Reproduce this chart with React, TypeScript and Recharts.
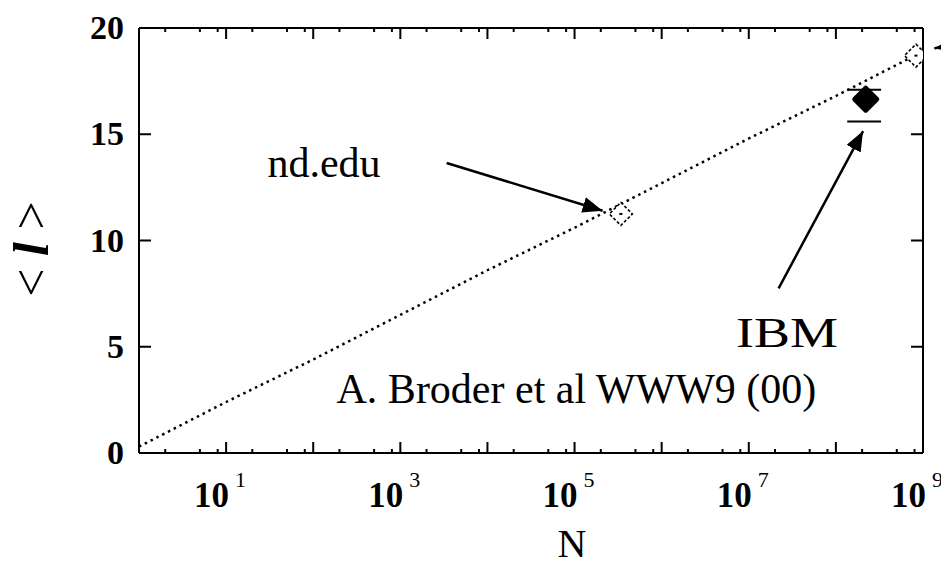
import React from 'react';
import { ComposedChart, Line, Scatter, XAxis, YAxis, ReferenceLine, ReferenceDot } from 'recharts';

// fit line <l> vs N (at each decade)
const lineN = [1, 10, 100, 1e3, 1e4, 1e5, 1e6, 1e7, 1e8, 1e9];
const lineL = [0.3, 2.4, 4.4, 6.5, 8.6, 10.6, 12.7, 14.8, 16.8, 18.9];

// open diamonds (nd.edu, whole web estimate)
const openN = [3.4e5, 8.3e8];
const openL = [11.25, 18.7];

// IBM measurement with error caps
const ibmN = [2.2e8];
const ibmL = [16.65];
const ibmLo = 15.6;
const ibmHi = 17.1;
const ibmCap = [1.35e8, 3.3e8];

// annotation arrows: [fromN, fromL, toN, toL]
const arrows = [
  [3.4e3, 13.65, 2.1e5, 11.4],
  [2.2e7, 7.75, 2.05e8, 15.15],
  [3e9, 19.25, 1.35e9, 19.05],
];

// annotation texts: [label, N, l (baseline)]
const notes: [string, number, number][] = [
  ['nd.edu', 133, 13.0],
  ['IBM', 2.75e7, 5.0],
  ['A. Broder et al WWW9 (00)', 1.05e5, 2.35],
];

const xTicks = [
  1, 2, 5, 8, 10, 20, 50, 80, 100, 200, 500, 800, 1e3, 2e3, 5e3, 8e3, 1e4, 2e4, 5e4, 8e4,
  1e5, 2e5, 5e5, 8e5, 1e6, 2e6, 5e6, 8e6, 1e7, 2e7, 5e7, 8e7, 1e8, 2e8, 5e8, 8e8, 1e9,
];
const yTicks = [0, 5, 10, 15, 20];

const lineData = lineN.map((n, i) => ({ n, l: lineL[i] }));
const openData = openN.map((n, i) => ({ n, l: openL[i] }));
const ibmData = ibmN.map((n, i) => ({ n, l: ibmL[i] }));

const FONT = '"Liberation Serif", "Times New Roman", serif';
// the IBM label is drawn wider than the serif font gives
const noteStretch: Record<string, number> = { IBM: 102 };

const decade = (v: number) => {
  const lg = Math.log10(v);
  const e = Math.round(lg);
  return { e, major: Math.abs(lg - e) < 1e-6 };
};

const BottomTick = (props: any) => {
  const { x, y, payload } = props;
  const { e, major } = decade(payload.value);
  return (
    <g>
      <line x1={x} x2={x} y1={y} y2={y - (major ? 11 : 4)} stroke="#000" strokeWidth={2} />
      {major && e % 2 === 1 && (
        <g fontFamily={FONT} fill="#000">
          <text x={x + 3} y={y + 54} textAnchor="end" fontSize={35} fontWeight="bold">
            10
          </text>
          <text x={x + 9} y={y + 34} textAnchor="start" fontSize={22}>
            {e}
          </text>
        </g>
      )}
    </g>
  );
};

const TopTick = (props: any) => {
  const { x, y, payload } = props;
  const { major } = decade(payload.value);
  return <line x1={x} x2={x} y1={y} y2={y + (major ? 11 : 4)} stroke="#000" strokeWidth={2} />;
};

const LeftTick = (props: any) => {
  const { x, y, payload } = props;
  return (
    <g>
      <line x1={x} x2={x + 12} y1={y} y2={y} stroke="#000" strokeWidth={2} />
      <text
        x={x - 15}
        y={y + 11}
        textAnchor="end"
        fontFamily={FONT}
        fontSize={34}
        fontWeight="bold"
        fill="#000"
      >
        {payload.value}
      </text>
    </g>
  );
};

const RightTick = (props: any) => {
  const { x, y } = props;
  return <line x1={x} x2={x - 12} y1={y} y2={y} stroke="#000" strokeWidth={2} />;
};

const OpenDiamond = (props: any) => {
  const { cx, cy } = props;
  const h = 11.5;
  return (
    <g>
      <path
        d={`M${cx},${cy - h} L${cx + h},${cy} L${cx},${cy + h} L${cx - h},${cy} Z`}
        fill="#fff"
        stroke="#000"
        strokeWidth={1.6}
        strokeDasharray="3 2"
      />
      <rect x={cx - 1.5} y={cy - 1} width={3} height={2} fill="#000" />
    </g>
  );
};

const FilledDiamond = (props: any) => {
  const { cx, cy } = props;
  const h = 11;
  return (
    <path
      d={`M${cx},${cy - h} L${cx + h},${cy} L${cx},${cy + h} L${cx - h},${cy} Z`}
      fill="#000"
      stroke="#000"
      strokeWidth={5}
      strokeLinejoin="round"
    />
  );
};

const Arrow = (p: any) => (
  <line x1={p.x1} y1={p.y1} x2={p.x2} y2={p.y2} stroke="#000" strokeWidth={2.5} markerEnd="url(#arrowHead)" />
);

const App = () => {
  return (
    <div style={{ position: 'absolute', left: 0, top: 0, width: 941, height: 568, background: '#fff' }}>
      <ComposedChart width={941} height={568} margin={{ top: 0, right: 0, bottom: 0, left: 0 }}>
        <defs>
          <marker
            id="arrowHead"
            markerUnits="userSpaceOnUse"
            markerWidth={22}
            markerHeight={16}
            refX={20}
            refY={8}
            orient="auto"
          >
            <path d="M0,0 L20,8 L0,16 Z" fill="#000" />
          </marker>
        </defs>
        <XAxis
          type="number"
          dataKey="n"
          scale="log"
          domain={[1, 1e9]}
          allowDataOverflow
          ticks={xTicks}
          interval={0}
          tickSize={0}
          tickMargin={0}
          tick={<BottomTick />}
          axisLine={{ stroke: '#000', strokeWidth: 2 }}
          height={115}
          label={{
            content: () => (
              <text x={572} y={557} textAnchor="middle" fontFamily={FONT} fontSize={40} fill="#000">
                N
              </text>
            ),
          }}
        />
        <XAxis
          xAxisId="top"
          orientation="top"
          type="number"
          dataKey="n"
          scale="log"
          domain={[1, 1e9]}
          allowDataOverflow
          ticks={xTicks}
          interval={0}
          tickSize={0}
          tickMargin={0}
          tick={<TopTick />}
          axisLine={{ stroke: '#000', strokeWidth: 2 }}
          height={28}
        />
        <YAxis
          type="number"
          domain={[0, 20]}
          ticks={yTicks}
          interval={0}
          tickSize={0}
          tickMargin={0}
          tick={<LeftTick />}
          axisLine={{ stroke: '#000', strokeWidth: 2 }}
          width={139}
          label={{
            content: () => (
              <text transform="translate(48,249) rotate(-90)" textAnchor="middle" fontFamily={FONT} fontSize={50} fill="#000">
                {'< '}
                <tspan fontStyle="italic" fontWeight="bold">l</tspan>
                {' >'}
              </text>
            ),
          }}
        />
        <YAxis
          yAxisId="right"
          orientation="right"
          type="number"
          domain={[0, 20]}
          ticks={yTicks}
          interval={0}
          tickSize={0}
          tickMargin={0}
          tick={<RightTick />}
          axisLine={{ stroke: '#000', strokeWidth: 2 }}
          width={18}
        />
        <Line
          data={lineData}
          dataKey="l"
          xAxisId="top"
          yAxisId="right"
          stroke="none"
          dot={false}
          isAnimationActive={false}
        />
        <Line
          data={lineData}
          dataKey="l"
          type="linear"
          stroke="#000"
          strokeWidth={2.5}
          strokeDasharray="2.5 4"
          dot={false}
          isAnimationActive={false}
        />
        {arrows.map((a, i) => (
          <ReferenceLine
            key={'a' + i}
            segment={[
              { x: a[0], y: a[1] },
              { x: a[2], y: a[3] },
            ]}
            ifOverflow="visible"
            shape={Arrow}
          />
        ))}
        <ReferenceLine
          segment={[
            { x: ibmCap[0], y: ibmHi },
            { x: ibmCap[1], y: ibmHi },
          ]}
          stroke="#000"
          strokeWidth={2}
          ifOverflow="visible"
        />
        <ReferenceLine
          segment={[
            { x: ibmCap[0], y: ibmLo },
            { x: ibmCap[1], y: ibmLo },
          ]}
          stroke="#000"
          strokeWidth={2}
          ifOverflow="visible"
        />
        <Scatter data={openData} dataKey="l" shape={<OpenDiamond />} isAnimationActive={false} />
        <Scatter data={ibmData} dataKey="l" shape={<FilledDiamond />} isAnimationActive={false} />
        {notes.map(([t, n, l]) => (
          <ReferenceDot
            key={t}
            x={n}
            y={l}
            ifOverflow="visible"
            shape={(p: any) => (
              <text
                x={p.cx}
                y={p.cy}
                textAnchor="middle"
                fontFamily={FONT}
                fontSize={42}
                fill="#000"
                textLength={noteStretch[t]}
                lengthAdjust={noteStretch[t] ? 'spacingAndGlyphs' : undefined}
              >
                {t}
              </text>
            )}
          />
        ))}
      </ComposedChart>
    </div>
  );
};

export default App;
